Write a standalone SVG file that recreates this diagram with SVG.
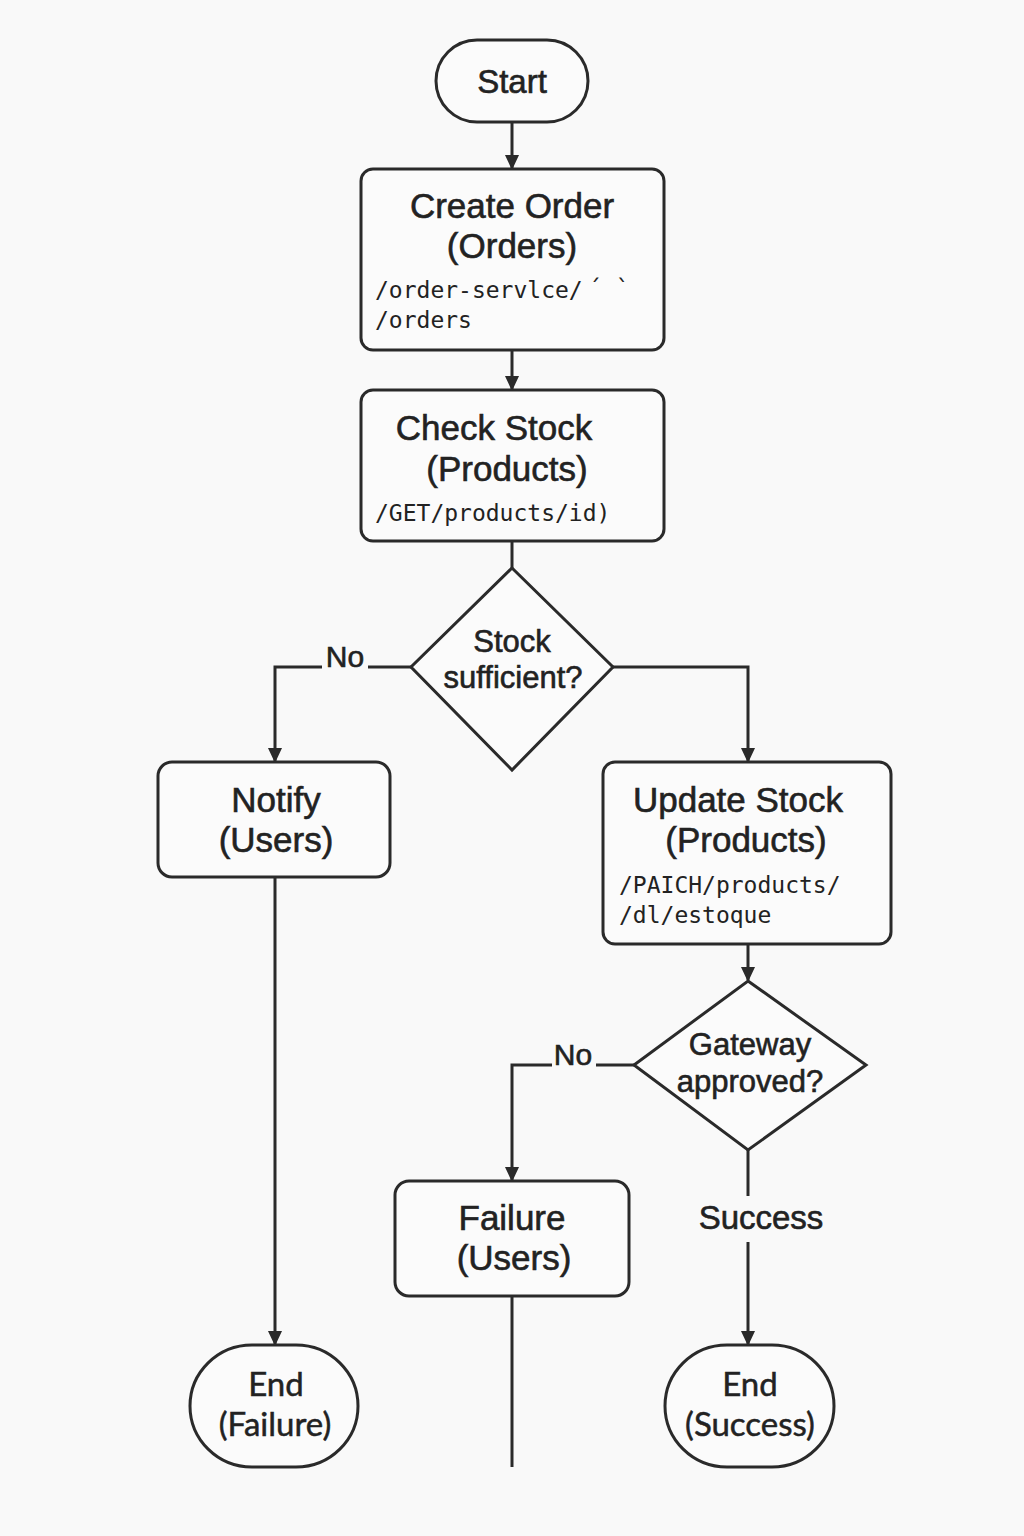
<svg xmlns="http://www.w3.org/2000/svg" width="1024" height="1536" viewBox="0 0 1024 1536">
<defs>
<marker id="arr" markerWidth="16" markerHeight="16" refX="13" refY="8" orient="auto" markerUnits="userSpaceOnUse" viewBox="0 0 16 16">
<path d="M0,1 L15,8 L0,15 Z" fill="#2a2a2a"/>
</marker>
<style>
.shape{fill:#fbfbfb;stroke:#2a2a2a;stroke-width:3}
.line{fill:none;stroke:#2a2a2a;stroke-width:3}
.t{font-family:"Liberation Sans",Arial,sans-serif;fill:#222;text-anchor:middle;stroke:#222;stroke-width:0.6}
.m{font-family:"DejaVu Sans Mono","Liberation Mono",monospace;fill:#222;font-size:23px}
.end{font-family:Lato,"Open Sans",sans-serif;fill:#222;text-anchor:middle;font-size:33px;stroke:#222;stroke-width:0.5}
</style>
</defs>
<rect width="1024" height="1536" fill="#f9f9f9"/>
<g id="connectors">
<line class="line" x1="512" y1="122" x2="512" y2="168" marker-end="url(#arr)"/>
<line class="line" x1="512" y1="350" x2="512" y2="389" marker-end="url(#arr)"/>
<line class="line" x1="512" y1="541" x2="512" y2="568"/>
<polyline class="line" points="411,667 368,667"/>
<polyline class="line" points="322,667 275,667 275,761" marker-end="url(#arr)"/>
<polyline class="line" points="613,667 748,667 748,761" marker-end="url(#arr)"/>
<line class="line" x1="275" y1="877" x2="275" y2="1344" marker-end="url(#arr)"/>
<line class="line" x1="748" y1="944" x2="748" y2="980" marker-end="url(#arr)"/>
<polyline class="line" points="634,1065 596,1065"/>
<polyline class="line" points="552,1065 512,1065 512,1180" marker-end="url(#arr)"/>
<line class="line" x1="748" y1="1150" x2="748" y2="1196"/>
<line class="line" x1="748" y1="1242" x2="748" y2="1344" marker-end="url(#arr)"/>
<line class="line" x1="512" y1="1296" x2="512" y2="1467"/>
<text class="t" x="345" y="667" font-size="30">No</text>
<text class="t" x="573" y="1065" font-size="30">No</text>
<text class="t" x="761" y="1229" font-size="33">Success</text>
</g>
<g id="start">
<rect class="shape" x="436" y="40" width="152" height="82" rx="41"/>
<text class="t" x="512" y="93" font-size="33">Start</text>
</g>
<g id="create-order">
<rect class="shape" x="361" y="169" width="303" height="181" rx="12"/>
<text class="t" x="512" y="218" font-size="35">Create Order</text>
<text class="t" x="512" y="258" font-size="35">(Orders)</text>
<text class="m" x="375" y="298">/order-servlce/</text>
<text class="m" x="588" y="296" font-size="20">´  `</text>
<text class="m" x="375" y="328">/orders</text>
</g>
<g id="check-stock">
<rect class="shape" x="361" y="390" width="303" height="151" rx="12"/>
<text class="t" x="494" y="440" font-size="35">Check Stock</text>
<text class="t" x="507" y="481" font-size="35">(Products)</text>
<text class="m" x="375" y="521" font-size="24">/GET/products/id)</text>
</g>
<g id="stock-sufficient">
<polygon class="shape" points="512,568 613,667 512,770 411,667"/>
<text class="t" x="512" y="652" font-size="31">Stock</text>
<text class="t" x="513" y="688" font-size="31">sufficient?</text>
</g>
<g id="notify">
<rect class="shape" x="158" y="762" width="232" height="115" rx="14"/>
<text class="t" x="276" y="812" font-size="35">Notify</text>
<text class="t" x="276" y="852" font-size="35">(Users)</text>
</g>
<g id="update-stock">
<rect class="shape" x="603" y="762" width="288" height="182" rx="12"/>
<text class="t" x="738" y="812" font-size="35">Update Stock</text>
<text class="t" x="746" y="852" font-size="35">(Products)</text>
<text class="m" x="619" y="893">/PAICH/products/</text>
<text class="m" x="619" y="923">/dl/estoque</text>
</g>
<g id="gateway-approved">
<polygon class="shape" points="748,981 866,1065 748,1150 634,1065"/>
<text class="t" x="750" y="1055" font-size="31">Gateway</text>
<text class="t" x="750" y="1092" font-size="31">approved?</text>
</g>
<g id="failure">
<rect class="shape" x="395" y="1181" width="234" height="115" rx="14"/>
<text class="t" x="512" y="1230" font-size="35">Failure</text>
<text class="t" x="514" y="1270" font-size="35">(Users)</text>
</g>
<g id="end-failure">
<rect class="shape" x="190" y="1345" width="168" height="122" rx="62"/>
<text class="end" x="276" y="1396">End</text>
<text class="end" x="275" y="1436">(Failure)</text>
</g>
<g id="end-success">
<rect class="shape" x="665" y="1345" width="169" height="122" rx="62"/>
<text class="end" x="750" y="1396">End</text>
<text class="end" x="750" y="1436">(Success)</text>
</g>
</svg>
